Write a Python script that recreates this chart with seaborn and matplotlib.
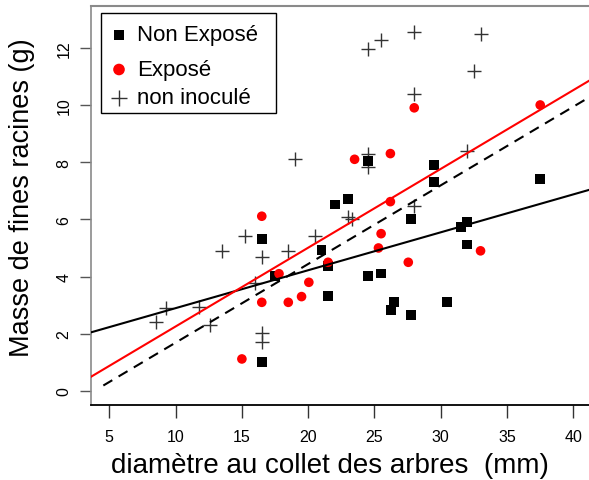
import matplotlib
matplotlib.use("Agg")
import matplotlib.pyplot as plt
import seaborn as sns
import numpy as np
import pandas as pd
from matplotlib.patches import Rectangle

# ---------------- data ----------------
ne_x = [16.5, 16.5, 17.5, 21.0, 21.5, 21.5, 22.0, 23.0, 24.5, 24.5, 25.5,
        26.5, 26.25, 27.75, 27.75, 29.5, 29.5, 30.5, 31.5, 32.0, 32.0, 37.5]
ne_y = [5.3, 1.0, 4.03, 4.93, 4.38, 3.33, 6.52, 6.7, 8.03, 4.03, 4.11,
        3.12, 2.83, 6.01, 2.66, 7.9, 7.3, 3.12, 5.72, 5.92, 5.12, 7.41]

ex_x = [15.0, 16.5, 16.5, 17.8, 18.5, 19.5, 20.05, 21.5, 23.5, 25.3, 25.5,
        26.2, 26.2, 27.55, 28.0, 33.0, 37.5]
ex_y = [1.12, 6.11, 3.1, 4.1, 3.1, 3.3, 3.8, 4.5, 8.1, 5.0, 5.5,
        8.3, 6.62, 4.5, 9.9, 4.9, 10.0]

ni_x = [8.5, 9.3, 11.8, 12.6, 13.5, 15.2, 16.0, 16.5, 16.5, 16.5, 18.5,
        19.0, 20.5, 23.0, 23.3, 24.5, 24.5, 24.5, 25.5, 28.0, 28.0, 28.0,
        32.0, 32.5, 33.0]
ni_y = [2.4, 2.89, 2.95, 2.32, 4.91, 5.41, 3.76, 4.67, 2.03, 1.7, 4.91,
        8.1, 5.41, 6.07, 6.01, 11.96, 8.29, 7.82, 12.27, 12.56, 10.38, 6.48,
        8.40, 11.18, 12.47]

# regression lines: intercept, slope, x start
line_names = ["Non Exposé", "Exposé", "non inoculé"]
line_intercepts = [1.57, -0.50, -1.06]
line_slopes = [0.1326, 0.2755, 0.275]
line_xstart = [3.0, 3.0, 4.55]

labels = ["Non Exposé", "Exposé", "non inoculé"]
xticks = [5, 10, 15, 20, 25, 30, 35, 40]
yticks = [0, 2, 4, 6, 8, 10, 12]

# ---------------- style ----------------
sns.set_style("white")
plt.rcParams["font.family"] = ["Liberation Sans", "DejaVu Sans"]

W, H = 589, 481
fig = plt.figure(figsize=(W / 100, H / 100), dpi=100)
L, R, T, B = 91, 589, 7, 406
ax = fig.add_axes([L / W, 1 - B / H, (R - L) / W, (B - T) / H])

xmin, xmax = 3.62, 41.18
ymin, ymax = -0.49, 13.46

df_ne = pd.DataFrame({"x": ne_x, "y": ne_y})
df_ex = pd.DataFrame({"x": ex_x, "y": ex_y})
df_ni = pd.DataFrame({"x": ni_x, "y": ni_y})

sns.scatterplot(data=df_ni, x="x", y="y", marker="+", s=110, color="#333333",
                linewidth=1.0, ax=ax, zorder=3)
sns.scatterplot(data=df_ne, x="x", y="y", marker="s", s=50, color="black",
                edgecolor="none", ax=ax, zorder=4)
sns.scatterplot(data=df_ex, x="x", y="y", marker="o", s=48, color="#ff0000",
                edgecolor="none", ax=ax, zorder=4)

styles = [dict(color="black", lw=1.5, ls="-"),
          dict(color="#ff0000", lw=1.5, ls="-"),
          dict(color="black", lw=1.5, ls=(0, (5, 3.5)))]
for a, b, xs, st in zip(line_intercepts, line_slopes, line_xstart, styles):
    xx = np.array([xs, 45.0])
    sns.lineplot(x=xx, y=a + b * xx, ax=ax, zorder=5, **st)

ax.set_xlim(xmin, xmax)
ax.set_ylim(ymin, ymax)
ax.set_xticks(xticks)
ax.set_yticks(yticks)
ax.set_xticklabels([str(t) for t in xticks])
ax.set_yticklabels([str(t) for t in yticks], rotation=90, va="center")

ax.tick_params(axis="x", direction="out", length=9, width=1.0, color="#333333",
               labelsize=11.5, labelcolor="black", pad=8, bottom=True)
ax.tick_params(axis="y", direction="out", length=8, width=1.0, color="#555555",
               labelsize=11.5, labelcolor="black", pad=6, left=True)

ax.spines["right"].set_visible(False)
ax.spines["left"].set_color("#8a8a8a")
ax.spines["top"].set_color("#8a8a8a")
ax.spines["left"].set_linewidth(1.2)
ax.spines["top"].set_linewidth(1.5)
ax.spines["bottom"].set_color("black")
ax.spines["bottom"].set_linewidth(1.3)

def afx(px):
    return (px - L) / (R - L)

def afy(py):
    return (B - py) / (B - T)

ax.set_xlabel("diamètre au collet des arbres  (mm)", fontsize=20, color="black")
ax.xaxis.label.set_va("center")
ax.xaxis.set_label_coords(afx(330), afy(466))
ax.set_ylabel("Masse de fines racines (g)", fontsize=19.5, color="black")
ax.yaxis.label.set_va("center")
ax.yaxis.set_label_coords(afx(22), afy(197.5))

# manual legend (R-style)
ax.add_patch(Rectangle((afx(101), afy(114)), afx(276) - afx(101), afy(14) - afy(114),
                       transform=ax.transAxes, facecolor="white", edgecolor="black",
                       lw=1.0, zorder=10, clip_on=False))
leg_y = [36, 70.5, 99]
leg_markers = [dict(marker="s", s=45, c="black", edgecolors="none"),
               dict(marker="o", s=70, c="#ff0000", edgecolors="none"),
               dict(marker="+", s=130, c="#333333", linewidths=1.0)]
for lab, yy, mk in zip(labels, leg_y, leg_markers):
    ax.scatter([afx(119)], [afy(yy)], transform=ax.transAxes, zorder=11,
               clip_on=False, **mk)
    ax.text(afx(137), afy(yy), lab, transform=ax.transAxes, fontsize=16,
            va="center", ha="left", zorder=11, color="black")

fig.savefig("out.png", dpi=100)
